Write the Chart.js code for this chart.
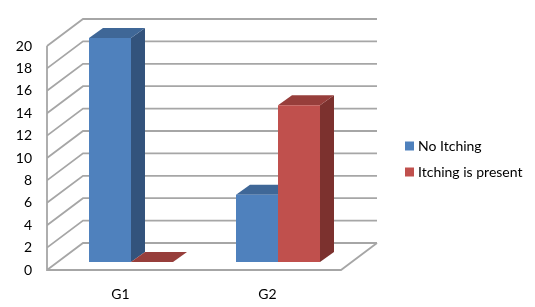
<!DOCTYPE html>
<html>
<head>
<meta charset="utf-8">
<style>html,body{margin:0;padding:0;background:#fff}canvas{display:block}</style>
<script src="https://cdn.jsdelivr.net/npm/chart.js@4"></script>
</head>
<body>
<canvas id="c" width="535" height="307" style="width:535px;height:307px"></canvas>
<script>
const categories = ["G1", "G2"];
const noItching = [20, 6];
const itchingPresent = [0, 14];
const seriesNames = ["No Itching", "Itching is present"];
const yMin = 0, yMax = 20, yStep = 2;

const FONT = {family: "Lato", size: 14};
const WALL = {dx: 36, dy: -27};
const BAR_SHIFT = {dx: 10.5, dy: -8};
const BAR_DEPTH = {dx: 14, dy: -10};
const GRID = "#a6a6a6";

const threeD = {
  id: "threeD",
  beforeLayout(chart) {
    const l = chart.legend;
    if (l && !l._fixed) {
      const f = l.fit;
      l.fit = function () { f.call(this); this.width = 194; };
      l._fixed = true;
    }
  },
  afterLayout(chart) {
    const l = chart.legend;
    l.left = 408 - l.options.labels.padding;
    l.top = 139 - l.options.labels.padding;
  },
  beforeDatasetsDraw(chart) {
    const {ctx, scales: {x, y}, chartArea: a} = chart;
    ctx.save();
    ctx.strokeStyle = GRID;
    ctx.lineWidth = 1.8;
    ctx.beginPath();
    y.ticks.forEach((t, i) => {
      const py = y.getPixelForTick(i);
      ctx.moveTo(a.left, py);
      ctx.lineTo(a.left + WALL.dx, py + WALL.dy);
      ctx.lineTo(a.right + WALL.dx, py + WALL.dy);
    });
    ctx.moveTo(a.left, y.getPixelForValue(yMax));
    ctx.lineTo(a.left, y.getPixelForValue(yMin));
    ctx.lineTo(a.right, y.getPixelForValue(yMin));
    ctx.lineTo(a.right + WALL.dx, y.getPixelForValue(yMin) + WALL.dy);
    ctx.stroke();
    ctx.restore();
    ctx.save();
    ctx.translate(BAR_SHIFT.dx, BAR_SHIFT.dy);
    // side and top faces of every bar go first, the library's bars (front faces) cover them
    chart.data.datasets.forEach((ds, i) => {
      chart.getDatasetMeta(i).data.forEach(el => {
        const l = el.x - el.width / 2, r = el.x + el.width / 2;
        ctx.fillStyle = ds.sideColor;
        ctx.beginPath();
        ctx.moveTo(r, el.y);
        ctx.lineTo(r + BAR_DEPTH.dx, el.y + BAR_DEPTH.dy);
        ctx.lineTo(r + BAR_DEPTH.dx, el.base + BAR_DEPTH.dy);
        ctx.lineTo(r, el.base);
        ctx.closePath();
        ctx.fill();
        ctx.fillStyle = ds.topColor;
        ctx.beginPath();
        ctx.moveTo(l, el.y);
        ctx.lineTo(l + BAR_DEPTH.dx, el.y + BAR_DEPTH.dy);
        ctx.lineTo(r + BAR_DEPTH.dx, el.y + BAR_DEPTH.dy);
        ctx.lineTo(r, el.y);
        ctx.closePath();
        ctx.fill();
      });
    });
  },
  afterDatasetsDraw(chart) {
    chart.ctx.restore();
  }
};

new Chart(document.getElementById("c"), {
  type: "bar",
  data: {
    labels: categories,
    datasets: [
      {label: seriesNames[0], data: noItching, backgroundColor: "#4f81bd", topColor: "#3f6797", sideColor: "#33537c", clip: false, borderWidth: 0},
      {label: seriesNames[1], data: itchingPresent, backgroundColor: "#c0504d", topColor: "#973e3b", sideColor: "#7c312e", clip: false, borderWidth: 0}
    ]
  },
  options: {
    responsive: false,
    animation: false,
    devicePixelRatio: 1,
    barPercentage: 1,
    categoryPercentage: 0.5714,
    layout: {padding: {top: 46, left: 0, right: 0, bottom: 0}},
    scales: {
      x: {
        grid: {display: false, drawTicks: false},
        border: {display: false},
        ticks: {color: "#000", font: FONT, padding: 16, maxRotation: 0},
        afterFit(s) { s.height = 37; }
      },
      y: {
        min: yMin, max: yMax,
        grid: {display: false, drawTicks: false},
        border: {display: false},
        ticks: {color: "#000", font: FONT, padding: 15, stepSize: yStep},
        afterFit(s) { s.width = 47; }
      }
    },
    plugins: {
      title: {display: false},
      tooltip: {enabled: false},
      legend: {
        position: "right",
        align: "start",
        labels: {
          color: "#000",
          font: FONT,
          padding: 12,
          boxWidth: 3,
          boxHeight: 3,
          generateLabels(chart) {
            return Chart.defaults.plugins.legend.labels.generateLabels(chart).map(it => ({
              ...it, strokeStyle: it.fillStyle, lineWidth: 6
            }));
          }
        }
      }
    }
  },
  plugins: [threeD]
});
</script>
</body>
</html>
